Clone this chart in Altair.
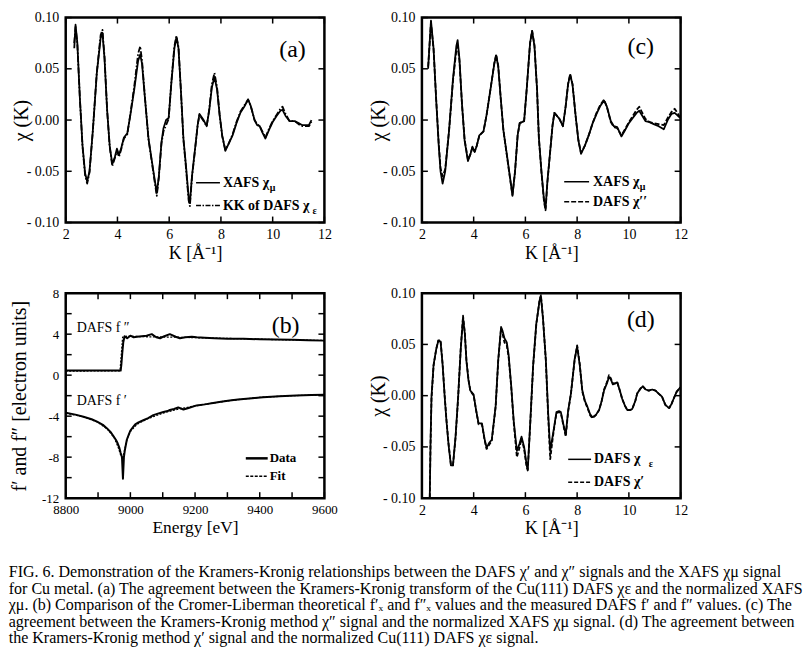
import altair as alt
import pandas as pd

FONT = "Liberation Serif"

# ---------------- panel (a) ----------------
a_k = [2.33, 2.38, 2.45, 2.55, 2.65, 2.75, 2.83, 2.92, 3.05, 3.2, 3.35, 3.42, 3.5, 3.6, 3.7, 3.8, 3.9, 3.98,
       4.06, 4.15, 4.25, 4.38, 4.5, 4.65, 4.8, 4.88, 4.95, 5.05, 5.2, 5.3, 5.42, 5.52, 5.6, 5.7, 5.78, 5.88,
       5.98, 6.08, 6.2, 6.28, 6.36, 6.45, 6.55, 6.65, 6.75, 6.8, 6.88, 7.0, 7.1, 7.17, 7.25, 7.33, 7.45, 7.55,
       7.65, 7.75, 7.85, 7.95, 8.05, 8.17, 8.3, 8.45, 8.6, 8.75, 8.9, 9.05, 9.15, 9.3, 9.4, 9.5, 9.6, 9.72,
       9.85, 10.0, 10.15, 10.3, 10.38, 10.5, 10.65, 10.85, 11.0, 11.15, 11.4, 11.5]
a_xafs = [0.070, 0.093, 0.075, 0.020, -0.025, -0.052, -0.060, -0.050, -0.010, 0.045, 0.080, 0.085, 0.060,
          0.010, -0.025, -0.043, -0.036, -0.028, -0.034, -0.027, -0.017, -0.013, 0.005, 0.030, 0.058, 0.064,
          0.055, 0.025, -0.018, -0.035, -0.055, -0.071, -0.055, -0.022, -0.008, 0.000, 0.002, 0.035, 0.070,
          0.081, 0.070, 0.030, -0.018, -0.045, -0.075, -0.081, -0.055, -0.028, -0.005, 0.006, 0.003, 0.000,
          -0.006, 0.010, 0.032, 0.042, 0.030, 0.005, -0.015, -0.030, -0.023, -0.015, -0.003, 0.007, 0.013,
          0.020, 0.014, 0.000, -0.005, -0.006, -0.012, -0.018, -0.010, -0.002, 0.004, 0.009, 0.010, 0.004,
          -0.001, -0.001, -0.003, -0.005, -0.005, 0.000]
a_kk = [0.075, 0.091, 0.074, 0.020, -0.026, -0.054, -0.062, -0.051, -0.010, 0.046, 0.083, 0.088, 0.062,
        0.010, -0.026, -0.045, -0.037, -0.030, -0.036, -0.028, -0.018, -0.014, 0.006, 0.033, 0.065, 0.072,
        0.058, 0.026, -0.019, -0.036, -0.057, -0.074, -0.056, -0.023, -0.011, -0.005, 0.001, 0.036, 0.072,
        0.082, 0.071, 0.030, -0.019, -0.047, -0.078, -0.084, -0.056, -0.029, -0.005, 0.005, 0.002, -0.001,
        -0.006, 0.011, 0.035, 0.046, 0.032, 0.005, -0.016, -0.029, -0.023, -0.014, -0.002, 0.008, 0.014,
        0.020, 0.014, 0.000, -0.004, -0.006, -0.011, -0.017, -0.009, -0.001, 0.005, 0.011, 0.013, 0.006,
        -0.001, -0.001, -0.004, -0.006, -0.006, -0.002]

# ---------------- panel (c) ----------------
c_k = [2.24, 2.35, 2.45, 2.55, 2.65, 2.72, 2.8, 2.9, 3.05, 3.2, 3.33, 3.38, 3.45, 3.55, 3.65, 3.78, 3.88, 3.95,
       4.04, 4.12, 4.22, 4.38, 4.5, 4.65, 4.8, 4.87, 4.95, 5.05, 5.15, 5.28, 5.4, 5.5, 5.6, 5.7, 5.78, 5.95,
       6.05, 6.18, 6.26, 6.35, 6.45, 6.52, 6.62, 6.72, 6.78, 6.85, 6.96, 7.05, 7.12, 7.22, 7.32, 7.45, 7.55,
       7.65, 7.73, 7.82, 7.95, 8.05, 8.15, 8.3, 8.46, 8.6, 8.75, 8.9, 9.04, 9.15, 9.3, 9.42, 9.55, 9.71, 9.85,
       10.0, 10.15, 10.3, 10.4, 10.5, 10.64, 10.8, 10.96, 11.15, 11.35, 11.5, 11.65, 11.77, 11.9, 12.0]
c_xafs = [0.050, 0.097, 0.070, 0.020, -0.025, -0.050, -0.062, -0.050, -0.010, 0.040, 0.072, 0.078, 0.060,
          0.015, -0.020, -0.040, -0.033, -0.026, -0.031, -0.025, -0.015, -0.011, 0.005, 0.030, 0.055, 0.063,
          0.052, 0.020, -0.010, -0.033, -0.055, -0.074, -0.050, -0.015, -0.003, -0.001, 0.030, 0.075, 0.087,
          0.072, 0.030, -0.017, -0.050, -0.078, -0.086, -0.060, -0.030, -0.005, 0.007, 0.004, 0.001, -0.006,
          0.012, 0.035, 0.044, 0.035, 0.002, -0.020, -0.033, -0.025, -0.014, -0.003, 0.006, 0.014, 0.019,
          0.013, -0.001, -0.006, -0.007, -0.016, -0.010, -0.003, 0.002, 0.007, 0.009, 0.005, -0.001, -0.002,
          -0.004, -0.006, -0.009, 0.000, 0.006, 0.007, 0.004, 0.002]
c_dafs = [0.052, 0.095, 0.069, 0.021, -0.023, -0.047, -0.055, -0.048, -0.010, 0.038, 0.068, 0.072, 0.058,
          0.015, -0.019, -0.039, -0.033, -0.027, -0.031, -0.025, -0.015, -0.011, 0.005, 0.030, 0.056, 0.064,
          0.053, 0.020, -0.010, -0.034, -0.056, -0.073, -0.050, -0.015, -0.003, -0.001, 0.030, 0.075, 0.087,
          0.073, 0.030, -0.017, -0.051, -0.080, -0.088, -0.061, -0.030, -0.005, 0.007, 0.004, 0.001, -0.006,
          0.012, 0.035, 0.045, 0.035, 0.002, -0.020, -0.032, -0.025, -0.014, -0.003, 0.007, 0.015, 0.020,
          0.013, -0.002, -0.007, -0.008, -0.015, -0.009, -0.002, 0.004, 0.010, 0.013, 0.008, 0.001, -0.002,
          -0.003, -0.004, -0.005, 0.002, 0.008, 0.011, 0.006, 0.001]

# ---------------- panel (d) ----------------
d_k = [2.3, 2.33, 2.37, 2.45, 2.55, 2.63, 2.72, 2.8, 2.88, 2.95, 3.03, 3.12, 3.2, 3.3, 3.4, 3.5, 3.59, 3.66,
       3.72, 3.8, 3.87, 4.0, 4.1, 4.19, 4.32, 4.42, 4.5, 4.6, 4.7, 4.85, 4.95, 5.06, 5.12, 5.19, 5.28, 5.35,
       5.45, 5.55, 5.67, 5.77, 5.85, 5.95, 6.05, 6.09, 6.18, 6.3, 6.42, 6.55, 6.6, 6.68, 6.79, 6.88, 6.96,
       7.05, 7.12, 7.2, 7.3, 7.37, 7.46, 7.56, 7.65, 7.76, 7.9, 8.0, 8.1, 8.2, 8.3, 8.4, 8.5, 8.59, 8.72,
       8.85, 8.95, 9.04, 9.15, 9.23, 9.3, 9.38, 9.47, 9.55, 9.65, 9.74, 9.85, 9.94, 10.05, 10.13, 10.25,
       10.32, 10.45, 10.54, 10.65, 10.77, 10.9, 11.03, 11.15, 11.28, 11.41, 11.5, 11.56, 11.65, 11.73, 11.85,
       11.99]
d_dafs_e = [-0.105, -0.050, -0.001, 0.030, 0.045, 0.053, 0.053, 0.030, -0.001, -0.025, -0.048, -0.068, -0.068,
            -0.040, -0.001, 0.045, 0.076, 0.060, 0.034, 0.015, 0.005, 0.001, -0.015, -0.027, -0.027, -0.042,
            -0.051, -0.046, -0.043, -0.010, 0.035, 0.067, 0.063, 0.056, 0.052, 0.040, 0.010, -0.025, -0.054,
            -0.047, -0.040, -0.050, -0.068, -0.073, -0.030, 0.030, 0.070, 0.093, 0.097, 0.075, 0.035, -0.017,
            -0.054, -0.040, -0.029, -0.016, -0.015, -0.016, -0.027, -0.038, -0.015, 0.002, 0.035, 0.048, 0.030,
            0.005, -0.005, -0.011, -0.018, -0.021, -0.019, -0.014, -0.005, 0.005, 0.012, 0.018, 0.016, 0.011,
            0.012, 0.013, 0.005, -0.003, -0.010, -0.014, -0.014, -0.013, -0.005, 0.002, 0.007, 0.009, 0.006,
            0.005, 0.006, 0.005, 0.002, -0.001, -0.009, -0.011, -0.012, -0.008, -0.003, 0.004, 0.008]
d_dafs_p = [-0.105, -0.052, -0.003, 0.029, 0.045, 0.054, 0.054, 0.031, 0.000, -0.024, -0.047, -0.067, -0.068,
            -0.041, -0.002, 0.046, 0.078, 0.061, 0.035, 0.016, 0.005, 0.000, -0.015, -0.028, -0.028, -0.043,
            -0.052, -0.048, -0.044, -0.011, 0.034, 0.066, 0.060, 0.052, 0.049, 0.038, 0.009, -0.027, -0.060,
            -0.051, -0.042, -0.052, -0.070, -0.072, -0.031, 0.029, 0.069, 0.094, 0.098, 0.076, 0.034, -0.020,
            -0.062, -0.043, -0.030, -0.017, -0.016, -0.017, -0.028, -0.040, -0.016, 0.002, 0.034, 0.049, 0.031,
            0.004, -0.006, -0.012, -0.019, -0.022, -0.019, -0.014, -0.005, 0.006, 0.013, 0.020, 0.017, 0.012,
            0.012, 0.013, 0.005, -0.003, -0.010, -0.014, -0.014, -0.013, -0.005, 0.002, 0.007, 0.009, 0.006,
            0.005, 0.006, 0.005, 0.002, -0.001, -0.009, -0.011, -0.012, -0.008, -0.003, 0.004, 0.008]

# ---------------- panel (b) ----------------
b_e_fpp = [8800, 8970, 8972, 8975, 8978, 8982, 8990, 9000, 9010, 9020, 9035, 9050, 9066, 9080, 9092, 9105,
           9122, 9140, 9153, 9170, 9190, 9205, 9230, 9260, 9300, 9350, 9400, 9450, 9500, 9550, 9600]
b_fpp_data = [0.45, 0.45, 1.0, 2.2, 3.2, 3.8, 3.6, 3.85, 3.7, 3.75, 3.8, 3.85, 4.0, 3.7, 3.6, 3.8, 4.0, 3.75,
              3.6, 3.7, 3.75, 3.7, 3.65, 3.6, 3.55, 3.55, 3.5, 3.48, 3.45, 3.4, 3.37]
b_e_fpp_fit = [8800, 8968, 8972, 8976, 8990, 9050, 9150, 9250, 9350, 9450, 9600]
b_fpp_fit = [0.40, 0.42, 2.0, 3.7, 3.8, 3.75, 3.7, 3.62, 3.55, 3.47, 3.38]
b_e_fp = [8800, 8830, 8855, 8880, 8897, 8915, 8927, 8940, 8948, 8955, 8960, 8966, 8970, 8974, 8977, 8980,
          8983, 8989, 8995, 9000, 9010, 9015, 9025, 9040, 9055, 9071, 9085, 9102, 9115, 9122, 9135, 9148,
          9164, 9180, 9205, 9230, 9256, 9280, 9307, 9333, 9359, 9385, 9410, 9461, 9513, 9560, 9600]
b_fp_data = [-3.67, -3.85, -4.06, -4.3, -4.54, -4.85, -5.17, -5.6, -5.97, -6.3, -6.6, -7.1, -7.6, -8.0, -10.1,
             -8.0, -7.3, -6.3, -5.8, -5.4, -5.0, -4.8, -4.6, -4.4, -4.2, -3.9, -3.75, -3.6, -3.5, -3.4, -3.3,
             -3.15, -3.35, -3.2, -2.95, -2.85, -2.72, -2.6, -2.48, -2.38, -2.3, -2.22, -2.15, -2.05, -1.98,
             -1.94, -1.92]
b_e_fp_fit = [8800, 8860, 8900, 8930, 8950, 8962, 8970, 8975, 8980, 8990, 9000, 9020, 9050, 9100, 9150, 9200,
              9300, 9400, 9500, 9600]
b_fp_fit = [-3.7, -4.1, -4.6, -5.3, -6.1, -7.0, -7.8, -8.2, -7.6, -6.2, -5.5, -4.8, -4.3, -3.7, -3.3, -3.0,
            -2.5, -2.17, -2.0, -1.92]

# tick values
k_ticks = [2, 4, 6, 8, 10, 12]
chi_ticks = [-0.10, -0.05, 0.0, 0.05, 0.10]
e_ticks = [8800, 8900, 9000, 9100, 9200, 9300, 9400, 9500, 9600]
e_labels = [8800, 9000, 9200, 9400, 9600]
f_ticks = [-12, -10, -8, -6, -4, -2, 0, 2, 4, 6, 8]
f_labels = [-12, -8, -4, 0, 4, 8]

W, H = 260, 206
TL = 6
one = pd.DataFrame({"v": [0]})

CHI_EXPR = "datum.value < -0.001 ? '- ' + format(-datum.value, '.2f') : format(abs(datum.value), '.2f')"
INT_EXPR = "datum.value < 0 ? '-' + format(-datum.value, 'd') : format(datum.value, 'd')"


def line(xs, ys, xscale, yscale, xaxis, yaxis, dash=None, width=1.8):
    df = pd.DataFrame({"x": xs, "y": ys})
    kw = dict(color="black", strokeWidth=width, clip=True, strokeJoin="round")
    if dash:
        kw["strokeDash"] = dash
    return alt.Chart(df).mark_line(**kw).encode(
        x=alt.X("x:Q", scale=xscale, axis=xaxis),
        y=alt.Y("y:Q", scale=yscale, axis=yaxis),
    )


def ticks(xt, yt):
    tx = pd.DataFrame({"x": xt})
    ty = pd.DataFrame({"y": yt})
    m = dict(color="black", strokeWidth=1.5)
    return [
        alt.Chart(tx).mark_rule(**m).encode(x="x:Q", y=alt.value(H), y2=alt.value(H - TL)),
        alt.Chart(tx).mark_rule(**m).encode(x="x:Q", y=alt.value(0), y2=alt.value(TL)),
        alt.Chart(ty).mark_rule(**m).encode(y="y:Q", x=alt.value(0), x2=alt.value(TL)),
        alt.Chart(ty).mark_rule(**m).encode(y="y:Q", x=alt.value(W), x2=alt.value(W - TL)),
    ]


def txt(s, x, y, size=14, weight="normal", align="left"):
    return alt.Chart(one).mark_text(font=FONT, fontSize=size, fontWeight=weight, align=align,
                                    baseline="middle", color="black").encode(
        x=alt.value(x), y=alt.value(y), text=alt.value(s))


def sample(x1, x2, y, dash=None, width=1.5):
    kw = dict(color="black", strokeWidth=width)
    if dash:
        kw["strokeDash"] = dash
    return alt.Chart(one).mark_rule(**kw).encode(x=alt.value(x1), x2=alt.value(x2), y=alt.value(y))


xs = alt.Scale(domain=[2, 12], nice=False, zero=False)
ys = alt.Scale(domain=[-0.10, 0.10], nice=False, zero=False)
xa = alt.Axis(values=k_ticks, title="K [\u00c5\u207b\u00b9]", ticks=False, domain=False, grid=False,
              labelPadding=5, labelFontSize=14, titleFontSize=18, titlePadding=3, labelFlush=False)
ya = alt.Axis(values=chi_ticks, title="\u03c7 (K)", labelExpr=CHI_EXPR, ticks=False, domain=False, grid=False,
              labelPadding=7, labelFontSize=14, titleFontSize=20, titleX=-44, titleBaseline="middle",
              labelFlush=False)

# panel (a)
pa = alt.layer(
    line(a_k, a_kk, xs, ys, xa, ya, dash=[6, 2, 1.5, 2]),
    line(a_k, a_xafs, xs, ys, xa, ya),
    *ticks(k_ticks, chi_ticks),
    txt("(a)", 228, 33, size=24, align="center"),
    sample(131, 155, 166),
    txt("XAFS \u03c7", 158, 166, size=14, weight="bold"),
    txt("\u03bc", 205, 171, size=10, weight="bold"),
    sample(131, 155, 189, dash=[5, 1.5, 1.5, 1.5]),
    txt("KK of DAFS \u03c7", 158, 189, size=14, weight="bold"),
    txt("\u03b5", 248, 194, size=10, weight="bold"),
).properties(width=W, height=H)

# panel (c)
pc = alt.layer(
    line(c_k, c_dafs, xs, ys, xa, ya, dash=[5, 2]),
    line(c_k, c_xafs, xs, ys, xa, ya),
    *ticks(k_ticks, chi_ticks),
    txt("(c)", 220, 30, size=24, align="center"),
    sample(143, 168, 165),
    txt("XAFS \u03c7", 172, 165, size=14, weight="bold"),
    txt("\u03bc", 219, 170, size=10, weight="bold"),
    sample(143, 168, 185, dash=[5, 2]),
    txt("DAFS \u03c7\u2032\u2032", 172, 185, size=14, weight="bold"),
).properties(width=W, height=H)

# panel (d)
pd_ = alt.layer(
    line(d_k, d_dafs_p, xs, ys, xa, ya, dash=[4, 2]),
    line(d_k, d_dafs_e, xs, ys, xa, ya),
    *ticks(k_ticks, chi_ticks),
    txt("(d)", 220, 27, size=24, align="center"),
    sample(147, 170, 167),
    txt("DAFS  \u03c7", 173, 167, size=14, weight="bold"),
    txt("\u03b5", 228, 172, size=10, weight="bold"),
    sample(147, 170, 190, dash=[4, 2]),
    txt("DAFS  \u03c7\u2032", 173, 190, size=14, weight="bold"),
).properties(width=W, height=H)

# panel (b)
xsb = alt.Scale(domain=[8800, 9600], nice=False, zero=False)
ysb = alt.Scale(domain=[-12, 8], nice=False, zero=False)
xab = alt.Axis(values=e_labels, title="Energy [eV]", labelExpr=INT_EXPR, ticks=False, domain=False, grid=False,
               labelPadding=5, labelFontSize=13, titleFontSize=17.5, titlePadding=3, labelFlush=False)
yab = alt.Axis(values=f_labels, title="f\u2032 and f\u2033 [electron units]", labelExpr=INT_EXPR, ticks=False,
               domain=False, grid=False, labelPadding=7, labelFontSize=13, titleFontSize=20, titleX=-46,
               titleBaseline="middle", labelFlush=False)
pb = alt.layer(
    line(b_e_fpp_fit, b_fpp_fit, xsb, ysb, xab, yab, dash=[2, 1.5], width=1.3),
    line(b_e_fpp, b_fpp_data, xsb, ysb, xab, yab, width=2),
    line(b_e_fp_fit, b_fp_fit, xsb, ysb, xab, yab, dash=[2, 1.5], width=1.3),
    line(b_e_fp, b_fp_data, xsb, ysb, xab, yab, width=2),
    *ticks(e_ticks, f_ticks),
    txt("(b)", 221, 33, size=24, align="center"),
    txt("DAFS f \u2033", 11, 35, size=14),
    txt("DAFS f \u2032", 11, 108, size=14),
    sample(181, 203, 166, width=2.5),
    txt("Data", 205, 166, size=13, weight="bold"),
    sample(181, 203, 184, dash=[3, 1.5], width=1.5),
    txt("Fit", 205, 184, size=13, weight="bold"),
).properties(width=W, height=H)

caption = [
    "\u00a0" * 5 + "FIG. 6. Demonstration of the Kramers-Kronig relationships between the DAFS \u03c7\u2032 and \u03c7\u2033 signals and the XAFS \u03c7\u03bc signal",
    "for Cu metal. (a) The agreement between the Kramers-Kronig transform of the Cu(111) DAFS \u03c7\u03b5 and the normalized XAFS",
    "\u03c7\u03bc. (b) Comparison of the Cromer-Liberman theoretical f\u2032\u2093 and f\u2033\u2093 values and the measured DAFS f\u2032 and f\u2033 values. (c) The",
    "agreement between the Kramers-Kronig method \u03c7\u2033 signal and the normalized XAFS \u03c7\u03bc signal. (d) The agreement between",
    "the Kramers-Kronig method \u03c7\u2032 signal and the normalized Cu(111) DAFS \u03c7\u03b5 signal.",
]

chart = alt.concat(pa, pc, pb, pd_, columns=2, spacing={"row": 71, "column": 98}, bounds="flush").properties(
    title=alt.TitleParams(text=caption, orient="bottom", anchor="start", frame="bounds", font=FONT,
                          fontSize=16.1, fontWeight="normal", color="black", lineHeight=16.6, offset=25,
                          baseline="top", align="left"),
    padding={"left": 0, "top": -1, "right": 0, "bottom": 0},
).configure_view(stroke="black", strokeWidth=2.5).configure_axis(
    labelFont=FONT, titleFont=FONT, labelColor="black", titleColor="black", titleFontWeight="normal"
)

chart.save("out.html", embed_options={"renderer": "svg", "actions": False})
